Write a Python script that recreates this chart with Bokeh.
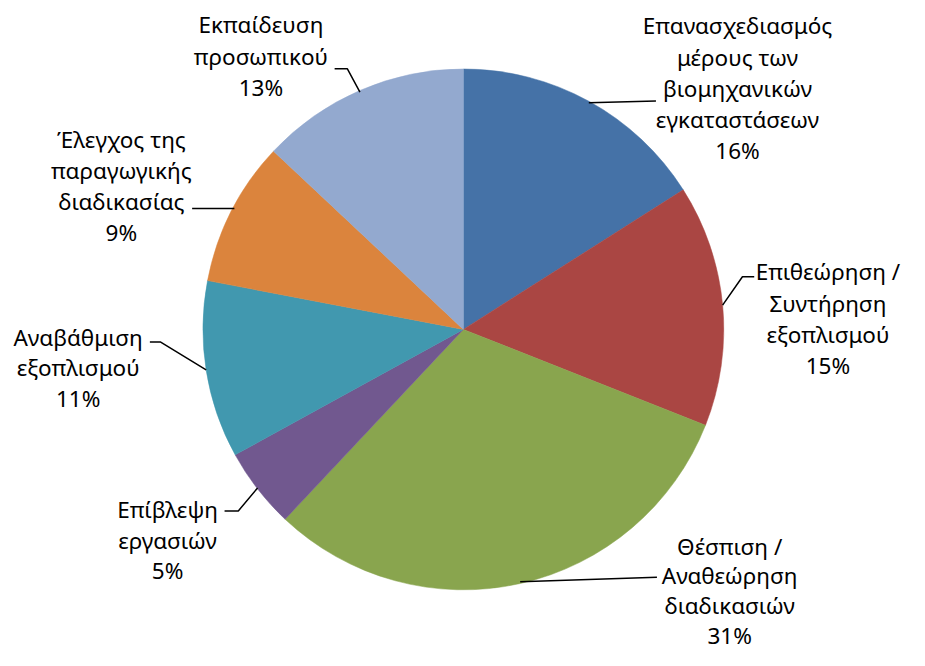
import numpy as np
from bokeh.plotting import figure
from bokeh.models import Range1d
from bokeh.core.properties import value
from bokeh.embed import file_html
from bokeh.resources import INLINE

# ---- data ----
categories = [
    "Επανασχεδιασμός μέρους των βιομηχανικών εγκαταστάσεων",
    "Επιθεώρηση / Συντήρηση εξοπλισμού",
    "Θέσπιση / Αναθεώρηση διαδικασιών",
    "Επίβλεψη εργασιών",
    "Αναβάθμιση εξοπλισμού",
    "Έλεγχος της παραγωγικής διαδικασίας",
    "Εκπαίδευση προσωπικού",
]
label_lines = [
    ["Επανασχεδιασμός", "μέρους των", "βιομηχανικών", "εγκαταστάσεων"],
    ["Επιθεώρηση /", "Συντήρηση", "εξοπλισμού"],
    ["Θέσπιση /", "Αναθεώρηση", "διαδικασιών"],
    ["Επίβλεψη", "εργασιών"],
    ["Αναβάθμιση", "εξοπλισμού"],
    ["Έλεγχος της", "παραγωγικής", "διαδικασίας"],
    ["Εκπαίδευση", "προσωπικού"],
]
percentages = [16, 15, 31, 5, 11, 9, 13]
colors = ["#4572A7", "#AA4643", "#89A54E", "#71588F", "#4198AF", "#DB843D", "#93A9CF"]

# ---- layout (reference-pixel coords; y_data = 666 - screen_y) ----
W, H = 925, 666
CX, CY, R = 471, H - 337, 265
# label block: center x, first-line screen y, line spacing
label_pos = [(750, 26, 32), (842, 278, 32), (742, 559, 30.5), (170, 522, 31),
             (79, 345, 31.5), (123, 142, 32), (265, 25, 32)]
# leader line: elbow / end points (screen coords) after the anchor on the pie edge
leader_tail = [
    [(667, 103)],
    [(755, 283), (767, 283)],
    [(668, 591)],
    [(242, 523), (228, 523)],
    [(163, 350), (152, 350)],
    [(238, 213), (195, 213)],
    [(353, 70), (340, 70)],
]
FONT = "Noto Sans"
FSIZE = "22.5px"

p = figure(width=909, height=650, output_backend="svg", toolbar_location=None,
           x_range=Range1d(0, W), y_range=Range1d(0, H), min_border=0,
           outline_line_color=None)
p.axis.visible = False
p.grid.visible = False
p.background_fill_color = "white"

vals = np.array(percentages, dtype=float)
frac = vals / vals.sum()
cum = np.concatenate([[0], np.cumsum(frac)])
start = np.pi / 2 - 2 * np.pi * cum[:-1]
end = np.pi / 2 - 2 * np.pi * cum[1:]
mid = (start + end) / 2

p.wedge(x=CX, y=CY, radius=R, start_angle=start, end_angle=end, direction="clock",
        fill_color=colors, line_color=colors, line_width=0.5)

# leader lines
xs, ys = [], []
for i, m in enumerate(mid):
    ax = CX + R * np.cos(m)
    ay = CY + R * np.sin(m)
    if i == 5:
        pts = [(x, H - y) for x, y in leader_tail[i]]
    else:
        pts = [(ax, ay)] + [(x, H - y) for x, y in leader_tail[i]]
    xs.append([q[0] for q in pts])
    ys.append([q[1] for q in pts])
p.multi_line(xs=xs, ys=ys, line_color="black", line_width=1.5)

# labels
tx, ty, tt = [], [], []
for i, lines in enumerate(label_lines):
    cx, y0, dy = label_pos[i]
    allp = lines + [f"{percentages[i]}%"]
    for j, t in enumerate(allp):
        tx.append(cx)
        ty.append(H - (y0 + j * dy))
        tt.append(t)
p.text(x=tx, y=ty, text=tt, text_align="center", text_baseline="middle",
       text_font=value(FONT), text_font_size=FSIZE, text_color="black")

open("out.html", "w").write(file_html(p, INLINE))
